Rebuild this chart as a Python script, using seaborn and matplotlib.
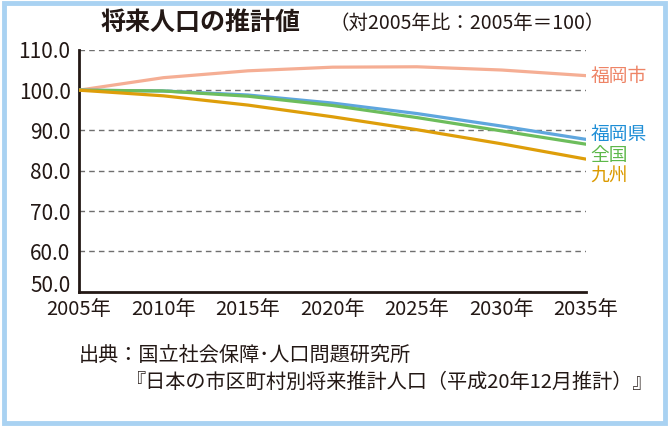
import matplotlib
matplotlib.use('Agg')
import matplotlib.pyplot as plt
import seaborn as sns
import pandas as pd
from matplotlib.patches import Rectangle

# Data (index, 2005 = 100)
years = [2005, 2010, 2015, 2020, 2025, 2030, 2035]
fukuoka_city = [100.0, 103.1, 104.8, 105.7, 105.8, 105.0, 103.6]
fukuoka_pref = [100.0, 99.8, 98.8, 96.8, 94.2, 91.1, 87.8]
japan = [100.0, 99.8, 98.5, 96.2, 93.2, 89.9, 86.6]
kyushu = [100.0, 98.6, 96.3, 93.4, 90.2, 86.7, 82.9]
series = ['福岡市', '福岡県', '全国', '九州']
line_colors = ['#F5AE94', '#5FA6DE', '#6DBD5C', '#DE9E0A']
label_colors = ['#EE8466', '#1E8ED6', '#5DB84A', '#DB9A00']
y_ticks = [50, 60, 70, 80, 90, 100, 110]
x_labels = [f'{y}年' for y in years]

df = pd.DataFrame({
    'year': years * 4,
    'value': fukuoka_city + fukuoka_pref + japan + kyushu,
    'series': [s for s in series for _ in years],
})

sns.set_style('white')
cjk = ['Noto Sans CJK JP', 'DejaVu Sans']
num_font = ['Liberation Sans Narrow', 'Noto Sans CJK JP']
plt.rcParams['font.family'] = cjk
ink = '#231815'

fig = plt.figure(figsize=(6.69, 4.26), dpi=100)
ax = fig.add_axes([0.118, 0.315, 0.758, 0.568])

sns.lineplot(data=df, x='year', y='value', hue='series', palette=dict(zip(series, line_colors)),
             linewidth=2.3, legend=False, ax=ax, zorder=3)

ax.set_xlim(2005, 2035)
ax.set_ylim(50, 110)
ax.set_yticks(y_ticks)
ax.set_yticklabels([f'{v:.1f}' for v in y_ticks], family=num_font, fontsize=15, color=ink)
ax.set_xticks(years)
ax.set_xticklabels(x_labels, family=num_font, fontsize=14.5, color=ink)
ax.set_xlabel('')
ax.set_ylabel('')
# bottom y label sits above the x axis line, as in the original
ax.get_yticklabels()[0].set_verticalalignment('baseline')
for v in y_ticks[1:]:
    ax.axhline(v, color='#6f6f6f', lw=1.0, ls=(0, (4, 3)), zorder=1)

ax.tick_params(axis='x', direction='in', length=5, width=1.5, color=ink, pad=5)
ax.tick_params(axis='y', direction='in', length=5, width=1.5, color=ink, pad=6)
# only the top y tick is drawn
for tick in ax.yaxis.get_major_ticks()[:-1]:
    tick.tick1line.set_visible(False)
for side in ['top', 'right']:
    ax.spines[side].set_visible(False)
for side in ['left', 'bottom']:
    ax.spines[side].set_color(ink)
    ax.spines[side].set_linewidth(2)

# end-of-line labels
label_y = [103.3, 89.0, 83.9, 78.7]
for name, ly, c in zip(series, label_y, label_colors):
    ax.annotate(name, xy=(2035, ly), xytext=(3, 0), textcoords='offset points',
                va='center', ha='left', fontsize=13.5, color=c, annotation_clip=False)

fig.text(0.150, 0.946, '将来人口の推計値', fontsize=18, fontweight='bold', color=ink, va='center')
fig.text(0.492, 0.944, '（対2005年比：2005年＝100）', fontsize=14, color=ink, va='center')

fig.text(0.117, 0.164, '出典：国立社会保障･人口問題研究所', fontsize=14.5, color=ink, va='center')
fig.text(0.976, 0.103, '『日本の市区町村別将来推計人口（平成20年12月推計）』', fontsize=14.5, color=ink,
         va='center', ha='right')

# light blue frame
fig.patches.append(Rectangle((0.006, 0.006), 0.988, 0.988, transform=fig.transFigure,
                             fill=False, edgecolor='#A9D2F2', linewidth=3.5))

fig.savefig('out.png', dpi=100)
